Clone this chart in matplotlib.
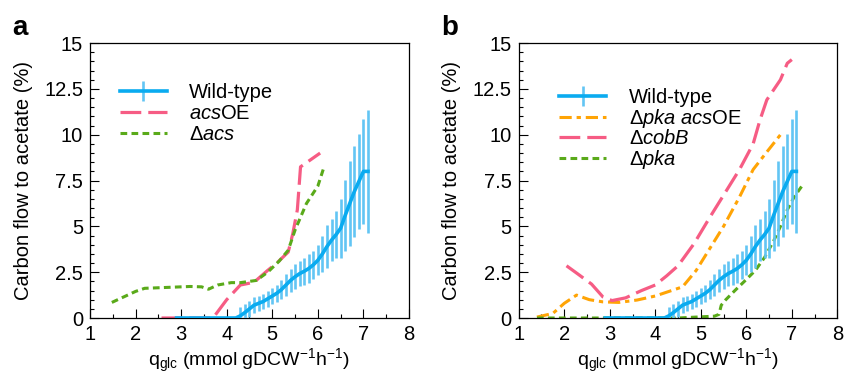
import numpy as np
import matplotlib
matplotlib.use("Agg")
import matplotlib.pyplot as plt

plt.rcParams['font.family'] = ['Liberation Sans', 'DejaVu Sans']
plt.rcParams['mathtext.fontset'] = 'custom'
plt.rcParams['mathtext.rm'] = 'Liberation Sans'
plt.rcParams['mathtext.it'] = 'Liberation Sans:italic'

# ---- wild-type (same in both panels) ----
wt_x = [2.9, 4.2, 4.3, 4.4, 4.5, 4.6, 4.7, 4.8, 4.9, 5.0, 5.1, 5.2, 5.3, 5.4, 5.5,
        5.6, 5.7, 5.8, 5.9, 6.0, 6.1, 6.2, 6.3, 6.4, 6.5, 6.6, 6.7, 6.8, 6.9, 7.0, 7.1]
wt_y = [0.0, 0.0, 0.12, 0.3, 0.5, 0.7, 0.8, 0.9, 1.05, 1.2, 1.35, 1.55, 1.8, 2.05, 2.25,
        2.42, 2.55, 2.7, 2.9, 3.15, 3.5, 3.9, 4.25, 4.55, 4.9, 5.6, 6.25, 6.9, 7.45, 8.0, 8.0]
wt_err = [0.0, 0.0, 0.5, 0.45, 0.45, 0.42, 0.42, 0.43, 0.43, 0.44, 0.45, 0.5, 0.6, 0.65, 0.68,
          0.68, 0.75, 0.78, 0.78, 0.82, 1.0, 1.15, 1.15, 1.3, 1.6, 1.95, 2.3, 2.5, 2.6, 2.85, 3.35]

# ---- panel a ----
acsoe_x = [2.57, 3.7, 4.0, 4.3, 4.6, 4.9, 5.1, 5.35, 5.45, 5.55, 5.62, 6.05]
acsoe_y = [0.0, 0.0, 1.0, 1.8, 1.95, 2.6, 3.0, 3.6, 4.6, 5.9, 8.25, 9.0]

dacs_x = [1.48, 2.0, 2.2, 2.7, 3.2, 3.45, 3.6, 3.8, 4.1, 4.3, 4.65, 4.9, 5.15, 5.35,
          5.5, 5.75, 6.0, 6.13]
dacs_y = [0.85, 1.45, 1.62, 1.67, 1.72, 1.7, 1.57, 1.8, 1.93, 1.93, 2.05, 2.5, 3.1, 3.7,
          4.8, 6.25, 7.2, 8.2]

# ---- panel b ----
pkaacs_x = [1.4, 1.75, 2.0, 2.27, 2.55, 2.85, 3.2, 3.6, 4.0, 4.3, 4.6, 4.9, 5.2, 5.5,
            5.85, 6.15, 6.4, 6.75]
pkaacs_y = [0.05, 0.25, 0.8, 1.25, 1.0, 0.88, 0.85, 0.98, 1.2, 1.45, 1.7, 2.6, 3.8, 5.0,
            6.6, 8.1, 8.9, 10.0]

cobb_x = [2.05, 2.3, 2.6, 2.85, 3.05, 3.35, 3.7, 4.0, 4.25, 4.5, 4.85, 5.2, 5.55, 5.85,
          6.15, 6.3, 6.45, 6.75, 6.9, 7.0]
cobb_y = [2.85, 2.4, 1.85, 1.15, 0.95, 1.1, 1.5, 1.8, 2.3, 2.85, 4.05, 5.5, 6.9, 8.1,
          9.5, 10.8, 11.9, 13.0, 13.9, 14.1]

dpka_x = [1.4, 3.0, 4.5, 5.3, 5.4, 5.45, 5.55, 5.75, 6.0, 6.2, 6.4, 6.6, 6.75, 6.9, 7.05, 7.25]
dpka_y = [0.0, 0.0, 0.0, 0.1, 0.2, 0.7, 1.0, 1.5, 2.1, 2.6, 3.3, 4.2, 5.0, 5.9, 6.6, 7.3]

BLUE = '#0AABF0'
BLUE_ERR = '#62C5F4'
PINK = '#F65C84'
GREEN = '#5AAA1A'
ORANGE = '#FFA405'
FS = 14.5


def wild_type(ax):
    return ax.errorbar(wt_x, wt_y, yerr=wt_err, color=BLUE, ecolor=BLUE_ERR,
                       lw=2.6, elinewidth=1.9, capsize=0, zorder=5,
                       label='Wild-type')


def style(ax, label):
    ax.set_xlim(1, 8)
    ax.set_ylim(0, 15)
    ax.set_xticks(range(1, 9))
    ax.set_xticks(np.arange(1, 8.01, 0.5), minor=True)
    ax.set_yticks([0, 2.5, 5, 7.5, 10, 12.5, 15])
    ax.set_yticklabels(['0', '2.5', '5', '7.5', '10', '12.5', '15'])
    ax.set_yticks(np.arange(0, 15.01, 0.5), minor=True)
    ax.tick_params(which='both', direction='in', top=False, right=False,
                   labelsize=FS, width=0.8)
    ax.tick_params(which='major', length=6.5, pad=5)
    ax.tick_params(which='minor', length=3)
    for s in ax.spines.values():
        s.set_linewidth(0.9)
    ax.set_xlabel(r'q$_{\mathrm{glc}}$ (mmol gDCW$^{\mathrm{-1}}$h$^{\mathrm{-1}}$)',
                  fontsize=14)
    ax.xaxis.set_label_coords(0.5, -0.105)
    ax.set_ylabel('Carbon flow to acetate (%)', fontsize=FS)
    ax.yaxis.set_label_coords(-0.18, 0.5)
    ax.text(-0.243, 1.056, label, transform=ax.transAxes, fontsize=20,
            fontweight='bold', va='center', ha='left')


fig = plt.figure(figsize=(8.44, 3.75), dpi=100)
ax1 = fig.add_axes([0.1066, 0.152, 0.378, 0.733])
ax2 = fig.add_axes([0.6146, 0.152, 0.3775, 0.733])

leg_kw = dict(loc='upper left', frameon=False, fontsize=FS, borderpad=0,
              handlelength=2.35, handletextpad=1.1)

# panel a
h_wt = wild_type(ax1)
h_oe, = ax1.plot(acsoe_x, acsoe_y, color=PINK, lw=2.3, dashes=(6.5, 2.2), label=r'$\mathit{acs}$OE')
h_da, = ax1.plot(dacs_x, dacs_y, color=GREEN, lw=2.2, dashes=(2.2, 1.4), label=r'$\Delta\mathit{acs}$')
style(ax1, 'a')
ax1.legend(handles=[h_wt, h_oe, h_da], bbox_to_anchor=(0.062, 0.892),
           labelspacing=0.1, **leg_kw)

# panel b
h_wt = wild_type(ax2)
h_pa, = ax2.plot(pkaacs_x, pkaacs_y, color=ORANGE, lw=2.2, dashes=(4, 1.6, 1.4, 1.6),
                 label=r'$\Delta\mathit{pka\ acs}$OE')
h_cb, = ax2.plot(cobb_x, cobb_y, color=PINK, lw=2.3, dashes=(6.5, 2.2), label=r'$\Delta\mathit{cobB}$')
h_dp, = ax2.plot(dpka_x, dpka_y, color=GREEN, lw=2.2, dashes=(2.2, 1.4), label=r'$\Delta\mathit{pka}$')
style(ax2, 'b')
ax2.legend(handles=[h_wt, h_pa, h_cb, h_dp], bbox_to_anchor=(0.095, 0.872),
           labelspacing=-0.03, **leg_kw)

fig.savefig('out.png', dpi=100)
